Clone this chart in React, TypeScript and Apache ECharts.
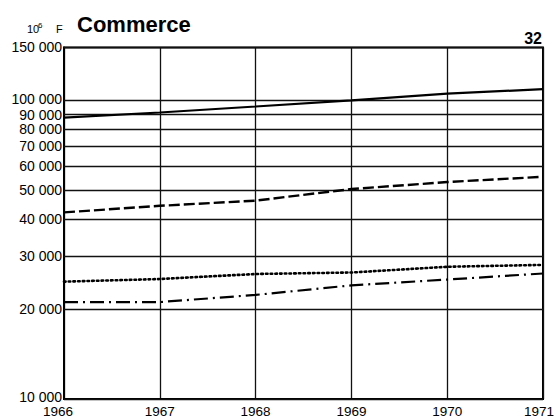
import React, { useEffect, useRef } from "react";
import * as echarts from "echarts";

const years = [1966, 1967, 1968, 1969, 1970, 1971];
const solidValues = [87400, 90900, 95200, 99800, 105200, 108800];
const dashedValues = [42100, 44300, 46100, 50400, 53200, 55400];
const dottedValues = [24700, 25200, 26200, 26500, 27700, 28100];
const dashDotValues = [21100, 21100, 22300, 24000, 25100, 26300];
const yTicks = [10000, 20000, 30000, 40000, 50000, 60000, 70000, 80000, 90000, 100000, 150000];
const yTickLabels = ["10 000", "20 000", "30 000", "40 000", "50 000", "60 000", "70 000", "80 000", "90 000", "100 000", "150 000"];

const FONT = "'Liberation Sans', Arial, Helvetica, sans-serif";

const labelShift = (v: number) => (v === 10000 ? -2.5 : v === 100000 ? -0.7 : v === 90000 ? 0.7 : v === 150000 ? -1 : 0);

export default function App() {
  const ref = useRef<HTMLDivElement>(null);
  useEffect(() => {
    if (!ref.current) return;
    const chart = echarts.init(ref.current, null, { renderer: "svg" });
    const pair = (vals: number[]) => years.map((y, i) => [y, vals[i]]);
    const lineBase = (name: string, vals: number[], type: any, width: number, cap: string = "butt") => ({
      name,
      type: "line",
      data: pair(vals),
      showSymbol: false,
      symbol: "none",
      silent: true,
      lineStyle: { color: "#000", width, type, cap },
      z: 5,
    });
    chart.setOption({
      animation: false,
      backgroundColor: "#fff",
      textStyle: { fontFamily: FONT },
      grid: {
        left: 64,
        right: 15,
        top: 47.5,
        bottom: 20,
        show: true,
        borderColor: "#000",
        borderWidth: 2,
        containLabel: false,
        outerBoundsMode: "none",
      },
      xAxis: {
        type: "value",
        min: 1966,
        max: 1971,
        interval: 1,
        axisLine: { show: true, lineStyle: { color: "#000", width: 2 } },
        axisTick: { show: false },
        splitLine: { show: true, lineStyle: { color: "#111", width: 1.3 } },
        axisLabel: {
          color: "#000",
          fontSize: 13.5,
          lineHeight: 12,
          fontFamily: FONT,
          margin: 6.5,
          formatter: (v: number) =>
            v === 1966 ? `{first|${v}}` : v === 1971 ? `{last|${v}}` : String(v),
          rich: {
            first: { fontSize: 13.5, lineHeight: 12, fontFamily: FONT, color: "#000", padding: [0, 12, 0, 0] },
            last: { fontSize: 13.5, lineHeight: 12, fontFamily: FONT, color: "#000", padding: [0, 8, 0, 0] },
          },
        },
      },
      yAxis: {
        type: "log",
        logBase: 10,
        min: 10000,
        max: 150000,
        axisLine: { show: true, lineStyle: { color: "#000", width: 2 } },
        axisTick: { show: false },
        splitLine: { show: false },
        axisLabel: { show: false },
      },
      series: [
        {
          ...lineBase("solid", solidValues, "solid", 2.2),
          markLine: {
            silent: true,
            symbol: "none",
            animation: false,
            lineStyle: { color: "#111", width: 1.3, type: "solid" },
            label: {
              show: true,
              position: "start",
              distance: 2,
              formatter: "{b}",
              color: "#000",
              fontSize: 14,
              lineHeight: 11,
              fontFamily: FONT,
            },
            emphasis: { disabled: true },
            data: yTicks.map((v, i) => ({
              yAxis: v,
              name: yTickLabels[i],
              label: { offset: [0, labelShift(v)] },
            })),
          },
        },
        lineBase("dashed", dashedValues, [11, 4], 2.4),
        lineBase("dotted", dottedValues, [1.6, 3.1], 2.6, "round"),
        lineBase("dashdot", dashDotValues, [14, 5, 2, 5], 2.2),
      ],
      graphic: [
        {
          type: "text",
          left: 27,
          top: 23,
          style: { text: "10", fontSize: 11, fontFamily: FONT, fill: "#000" },
        },
        {
          type: "text",
          left: 38,
          top: 21,
          style: { text: "6", fontSize: 8, fontFamily: FONT, fill: "#000" },
        },
        {
          type: "text",
          left: 56,
          top: 23,
          style: { text: "F", fontSize: 11, fontFamily: FONT, fill: "#000" },
        },
        {
          type: "text",
          left: 77,
          top: 13,
          style: { text: "Commerce", fontSize: 22, fontWeight: "bold", fontFamily: FONT, fill: "#000" },
        },
        {
          type: "text",
          right: 16,
          top: 30,
          style: { text: "32", fontSize: 16, fontWeight: "bold", fontFamily: FONT, fill: "#000" },
        },
      ],
    });
    return () => chart.dispose();
  }, []);
  return <div ref={ref} style={{ width: 558, height: 419, position: "absolute", left: 0, top: 0 }} />;
}
